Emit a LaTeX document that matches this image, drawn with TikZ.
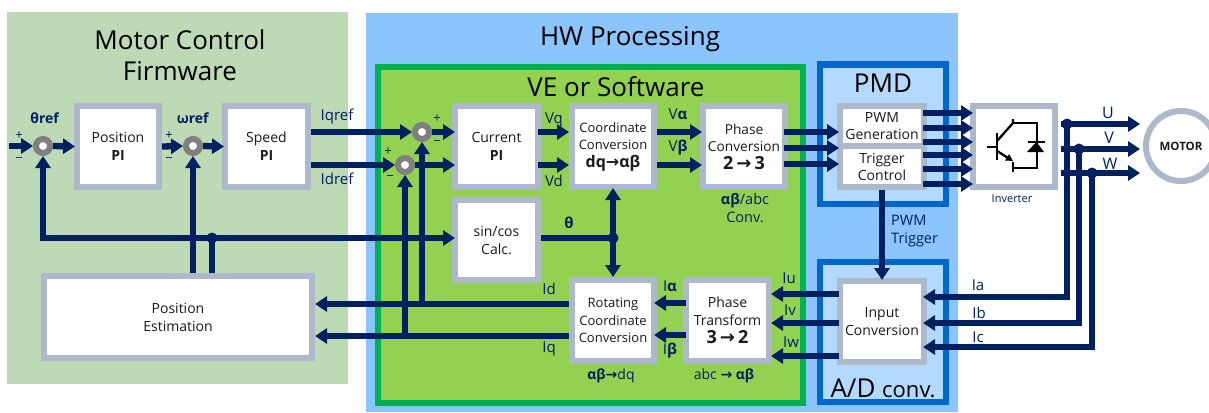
\documentclass[tikz,border=0pt]{standalone}
\usepackage{fontspec}
\setmainfont{Open Sans}
\newfontfamily\arrfont{DejaVu Sans}
\usetikzlibrary{arrows.meta}
\definecolor{navy}{HTML}{002060}
\definecolor{blkgray}{HTML}{ADB9CA}
\definecolor{sumgray}{HTML}{808080}
\definecolor{fwgreen}{HTML}{BDD9B6}
\definecolor{hwblue}{HTML}{8CC4FF}
\definecolor{vegreen}{HTML}{92D250}
\definecolor{veborder}{HTML}{00B050}
\definecolor{pmdborder}{HTML}{0066CC}
\definecolor{pmdfill}{HTML}{B3D9FF}
\definecolor{txt}{HTML}{1A1A1A}
\newcommand{\fs}[1]{\fontsize{#1}{17}\selectfont}
\newcommand{\ar}{{\arrfont\bfseries →}}
\tikzset{
  panel/.style={inner sep=0pt,outer sep=0pt},
  blk/.style={draw=blkgray,line width=6pt,fill=white,inner sep=0pt,align=center,text=txt,font=\fontsize{14}{18}\selectfont},
  tightblk/.style={blk,font=\fontsize{14}{17}\selectfont},
  convblk/.style={blk,font=\fontsize{13}{17.5}\selectfont},
  sumnode/.style={circle,draw=sumgray,line width=6pt,fill=white,minimum size=14pt,inner sep=0pt},
  jdot/.style={circle,fill=navy,minimum size=11pt,inner sep=0pt,outer sep=0pt},
  wire/.style={draw=navy,line width=6.3pt},
  arr/.style={wire,-{Triangle[width=15pt,length=12pt]}},
  lbl/.style={text=navy,inner sep=0pt,align=center,font=\fontsize{15}{18}\selectfont},
  blbl/.style={lbl,font=\fontsize{14}{18}\selectfont},
  sign/.style={text=navy,inner sep=0pt,font=\fontsize{13}{13}\selectfont},
  title/.style={text=black,inner sep=0pt,align=center,font=\fontsize{26}{32}\selectfont},
  igbt/.style={draw=black,line width=2.3pt}
}
\begin{document}
\begin{tikzpicture}[x=1pt,y=-1pt]
\useasboundingbox (0,0) rectangle (1209,412);
\clip (0,0) rectangle (1209,412);
\fill[white] (0,0) rectangle (1209,412);
% panels
\node[panel,fill=fwgreen,minimum width=341pt,minimum height=372pt] (fw) at (177.5,198) {};
\node[panel,fill=hwblue,minimum width=592pt,minimum height=399pt] (hw) at (662,212.5) {};
\node[panel,draw=veborder,line width=6pt,fill=vegreen,minimum width=425pt,minimum height=336pt,outer sep=3pt] (ve) at (590.5,235) {};
\node[panel,draw=pmdborder,line width=6pt,fill=pmdfill,minimum width=126pt,minimum height=139pt] (pmd) at (883,134) {};
\node[panel,draw=pmdborder,line width=6pt,fill=pmdfill,minimum width=126pt,minimum height=140pt] (ad) at (883,332) {};
% titles
\node[title] (tfw) at (180,55) {Motor Control\\[-1pt]Firmware};
\node[title] (thw) at (630,39) {HW Processing};
\node[title] (tve) at (616,87) {VE or Software};
\node[title] (tpmd) at (883,83) {PMD};
\node[title] (tad) at (883,388) {A/D {\fontsize{22}{22}\selectfont conv.}};
% blocks
\node[blk,minimum width=82pt,minimum height=81pt] (pos) at (118,146.5) {Position\\\textbf{PI}};
\node[blk,minimum width=83pt,minimum height=81pt] (speed) at (266.5,146.5) {Speed\\\textbf{PI}};
\node[blk,minimum width=83pt,minimum height=81pt] (cur) at (496.5,146.5) {Current\\\textbf{PI}};
\node[convblk,minimum width=82pt,minimum height=81pt] (coord) at (613,146.5) {Coordinate\\Conversion\\{\fs{16}\textbf{dq}\ar\textbf{αβ}}};
\node[blk,font=\fontsize{13.7}{17.5}\selectfont,minimum width=82pt,minimum height=81pt] (phase) at (744,146.5) {Phase\\Conversion\\{\fs{18}\textbf{2}\,\ar\,\textbf{3}}};
\node[blk,minimum width=83pt,minimum height=80pt] (sin) at (496.5,240) {sin/cos\\Calc.};
\node[convblk,minimum width=82pt,minimum height=81pt] (rot) at (613,320.5) {Rotating\\Coordinate\\Conversion};
\node[blk,minimum width=83pt,minimum height=81pt] (pht) at (727.5,320.5) {Phase\\Transform\\{\fs{18}\textbf{3}\,\ar\,\textbf{2}}};
\node[blk,minimum width=268pt,minimum height=82pt] (est) at (178,317) {Position\\Estimation};
\node[tightblk,minimum width=84pt,minimum height=40pt] (pwm) at (882,126) {PWM\\Generation};
\node[tightblk,minimum width=84pt,minimum height=41pt] (trig) at (882,166.5) {Trigger\\Control};
\node[blk,minimum width=82pt,minimum height=81pt] (inv) at (1014,146.5) {};
\node[blk,minimum width=84pt,minimum height=81pt] (inp) at (882,321.5) {Input\\Conversion};
\node[circle,draw=blkgray,line width=6pt,fill=white,minimum size=70pt,inner sep=0pt,text=txt,font=\fontsize{11.5}{14}\selectfont\bfseries] (motor) at (1181,146) {MOTOR};
% summing points
\node[sumnode] (st) at (43,146) {};
\node[sumnode] (sw) at (193,146) {};
\node[sumnode] (sq) at (422,132) {};
\node[sumnode] (sd) at (405,165) {};
% rows
\coordinate (yId) at (0,304);
\coordinate (yIq) at (0,336);
\coordinate (yIa) at (0,303);
\coordinate (yIb) at (0,335);
\coordinate (yIu) at (0,294);
\coordinate (yIv) at (0,323);
\coordinate (yIw) at (0,356);
\coordinate (yA) at (0,297);
\coordinate (yB) at (0,323);
\coordinate (yC) at (0,347);
\coordinate (thetain) at (9,146);
% wires
\draw[arr] (thetain) -- (st.west);
\draw[arr,shorten >=-1pt] (st.east) -- (pos.west);
\draw[arr] (pos.east) -- (sw.west);
\draw[arr,shorten >=-2pt] (sw.east) -- (speed.west);
\draw[arr] (speed.east |- sq) -- (sq.west);
\draw[arr] (speed.east |- sd) -- (sd.west);
\draw[arr,shorten >=-3pt] (sq.east) -- (cur.west |- sq);
\draw[arr,shorten >=-3pt] (sd.east) -- (cur.west |- sd);
\draw[arr,shorten <=-3pt] (cur.east |- sq) -- (coord.west |- sq);
\draw[arr,shorten <=-3pt] (cur.east |- sd) -- (coord.west |- sd);
\draw[arr,shorten >=-2pt] (coord.east |- sq) -- (phase.west |- sq);
\draw[arr,shorten >=-2pt] (coord.east |- sd) -- (phase.west |- sd);
\foreach \yy in {132,148,164}{
  \coordinate (py) at (0,\yy);
  \draw[arr,shorten <=-4pt,shorten >=-2pt] (phase.east |- py) -- (pwm.west |- py);
}
\foreach \yy in {113,128,142,155,169,184}{
  \coordinate (oy) at (0,\yy);
  \draw[arr,shorten <=-4pt,shorten >=-3pt] (pwm.east |- oy) -- (inv.west |- oy);
}
\draw[arr,shorten >=-2pt] (trig.south) -- (inp.north);
% junction dots
\node[jdot] (jb) at (212,238) {};
\node[jdot] (jt) at (613,238) {};
\node[jdot] (jU) at (1067,124) {};
\node[jdot] (jV) at (1079,149) {};
\node[jdot] (jW) at (1092,173) {};
% feedback
\draw[arr] (jb.center) -- (st |- jb) -- (st.south);
\draw[arr,shorten >=-3pt] (jb.center) -- (sin.west |- jb);
\draw[wire] (jb.center) -- (jb |- est.north);
\draw[arr] (sw |- est.north) -- (sw.south);
\draw[wire] (sin.east |- jt) -- (jt.center);
\draw[arr,shorten >=-2pt] (jt.center) -- (coord.south);
\draw[arr] (jt.center) -- (rot.north);
\draw[arr] (rot.west |- yId) -- (est.east |- yId);
\draw[arr] (rot.west |- yIq) -- (est.east |- yIq);
\draw[arr] (sq |- yId) -- (sq.south);
\draw[arr] (sd |- yIq) -- (sd.south);
\draw[arr,shorten <=-3pt,shorten >=-3pt] (pht.west |- yIa) -- (rot.east |- yIa);
\draw[arr,shorten <=-3pt,shorten >=-3pt] (pht.west |- yIb) -- (rot.east |- yIb);
\draw[arr,shorten <=-2pt,shorten >=-1pt] (inp.west |- yIu) -- (pht.east |- yIu);
\draw[arr,shorten <=-2pt,shorten >=-1pt] (inp.west |- yIv) -- (pht.east |- yIv);
\draw[arr,shorten <=-2pt,shorten >=-1pt] (inp.west |- yIw) -- (pht.east |- yIw);
% outputs
\draw[arr,shorten <=3pt,shorten >=3pt] (inv.east |- jU) -- (motor.west |- jU);
\draw[arr,shorten <=3pt,shorten >=3pt] (inv.east |- jV) -- (motor.west |- jV);
\draw[arr,shorten <=3pt,shorten >=3pt] (inv.east |- jW) -- (motor.west |- jW);
\draw[arr,shorten >=-4pt] (jU.center) |- (inp.east |- yA);
\draw[arr,shorten >=-4pt] (jV.center) |- (inp.east |- yB);
\draw[arr,shorten >=-4pt] (jW.center) |- (inp.east |- yC);
% inverter symbol
\draw[igbt] (987,147) -- (997,147);
\draw[igbt,line width=2.8pt] (997,133) -- (997,160);
\draw[igbt] (997,141) -- (1013,123) -- (1013,119);
\draw[igbt] (1013,123) -- (1037,123) -- (1037,168) -- (1013,168);
\draw[igbt] (1013,162) -- (1013,172);
\draw[igbt,-{Triangle[width=7pt,length=7pt]}] (997,151) -- (1013,161);
\fill[black] (1027,152) -- (1044,152) -- (1036.5,142) -- cycle;
\draw[igbt] (1028,142) -- (1045,142);
% labels
\node[blbl] (lth) at (45,118) {\textbf{θref}};
\node[blbl] (lw) at (193,118) {\textbf{ωref}};
\node[sign] (p1) at (19,136) {+};
\node[sign] (m1) at (19,160) {−};
\node[sign] (p2) at (169,136) {+};
\node[sign] (m2) at (169,160) {−};
\node[sign] (p3) at (437,119) {+};
\node[sign] (m3) at (437,143) {−};
\node[sign] (p4) at (388,152) {+};
\node[sign] (m4) at (390,178) {−};
\node[lbl] (liq) at (337,117) {Iqref};
\node[lbl] (lid) at (337,179) {Idref};
\node[lbl] (lvq) at (554,120) {Vq};
\node[lbl] (lvd) at (554,181) {Vd};
\node[lbl] (lva) at (678,114) {V\textbf{α}};
\node[lbl] (lvb) at (678,148) {V\textbf{β}};
\node[lbl,font=\fontsize{14.5}{18}\selectfont] (labc) at (745,208) {\textbf{αβ}/abc\\Conv.};
\node[lbl] (lt) at (569,223) {\textbf{θ}};
\node[lbl] (liu) at (789,278) {Iu};
\node[lbl] (liv) at (790,310) {Iv};
\node[lbl] (liw) at (791,342) {Iw};
\node[lbl] (lia) at (670,286) {I\textbf{α}};
\node[lbl] (lib) at (670,351) {I\textbf{β}};
\node[lbl] (lidd) at (549,289) {Id};
\node[lbl] (liqq) at (549,349) {Iq};
\node[blbl] (lad) at (611,376) {\textbf{αβ}\ar dq};
\node[blbl] (lab) at (724,376) {abc \ar\ \textbf{αβ}};
\node[lbl,anchor=west,align=left,font=\fontsize{14.5}{18}\selectfont] (lpt) at (891,231) {PWM\\Trigger};
\node[lbl] (lIa) at (978,285) {Ia};
\node[lbl] (lIb) at (979,313) {Ib};
\node[lbl] (lIc) at (978,337) {Ic};
\node[lbl,font=\fontsize{16}{18}\selectfont] (lU) at (1108,113) {U};
\node[lbl,font=\fontsize{16}{18}\selectfont] (lV) at (1109,138) {V};
\node[lbl,font=\fontsize{16}{18}\selectfont] (lW) at (1110,164) {W};
\node[lbl,font=\fontsize{11}{13}\selectfont] (linv) at (1012,199) {Inverter};
\end{tikzpicture}
\end{document}
